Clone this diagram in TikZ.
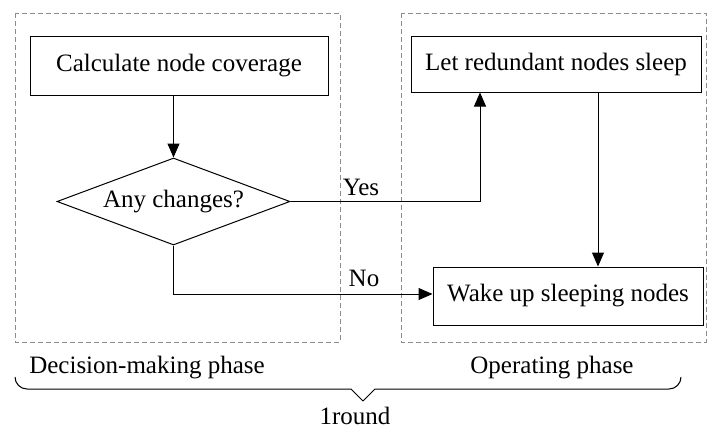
\documentclass[tikz,border=0pt]{standalone}
\usepackage{fontspec}
\setmainfont{Liberation Serif}
\usetikzlibrary{shapes.geometric,arrows.meta}
\begin{document}
\begin{tikzpicture}[x=1pt,y=-1pt,
  every node/.style={font=\fontsize{25}{30}\selectfont},
  procbox/.style={draw, line width=1pt, rectangle, inner sep=0pt},
  decision/.style={draw, line width=1pt, diamond, aspect=2.68, inner sep=0pt, minimum width=233pt, minimum height=87pt},
  phasebox/.style={draw=gray!90, dashed, dash pattern=on 5pt off 3pt, line width=0.9pt},
  flow/.style={line width=1pt, -{Triangle[length=14pt,width=12pt]}},
  plainline/.style={line width=1pt},
  txt/.style={inner sep=0pt}]
\useasboundingbox (0,0) rectangle (709,434);
% phase boxes
\draw[phasebox] (15,13) rectangle (340,342);
\draw[phasebox] (401,13) rectangle (706,342);
% nodes
\node[procbox, minimum width=298pt, minimum height=59pt] (calc) at (179,65.5) {Calculate node coverage};
\node[decision] (chg) at (173.5,201.5) {Any changes?};
\node[procbox, minimum width=290pt, minimum height=56pt] (sleep) at (556,64) {Let redundant nodes sleep};
\node[procbox, minimum width=270pt, minimum height=58pt] (wake) at (568,296) {Wake up sleeping nodes};
% connectors
\coordinate (yc) at (480,201.5);
\coordinate (nc) at (173.5,294);
\draw[flow] (calc.south -| chg.north) -- (chg.north);
\draw[flow] (chg.east) -- (yc) -- (sleep.south -| yc);
\draw[flow] (sleep.south -| 598,0) -- (wake.north -| 598,0);
\draw[flow] (chg.south) -- (nc) -- (wake.west |- nc);
% labels
\node[txt] (yes) at (361,187) {Yes};
\node[txt] (no) at (364,278) {No};
\node[txt] (dm) at (147,368) {Decision-making phase};
\node[txt] (op) at (552,368) {Operating phase};
\node[txt] (rnd) at (355,416) {1round};
% brace
\draw[plainline, line join=round] (15,377) arc[start angle=180, end angle=270, radius=12pt] -- (351,389) -- (363,401) -- (375,389) -- (669,389) arc[start angle=270, end angle=360, radius=12pt];
\end{tikzpicture}
\end{document}
